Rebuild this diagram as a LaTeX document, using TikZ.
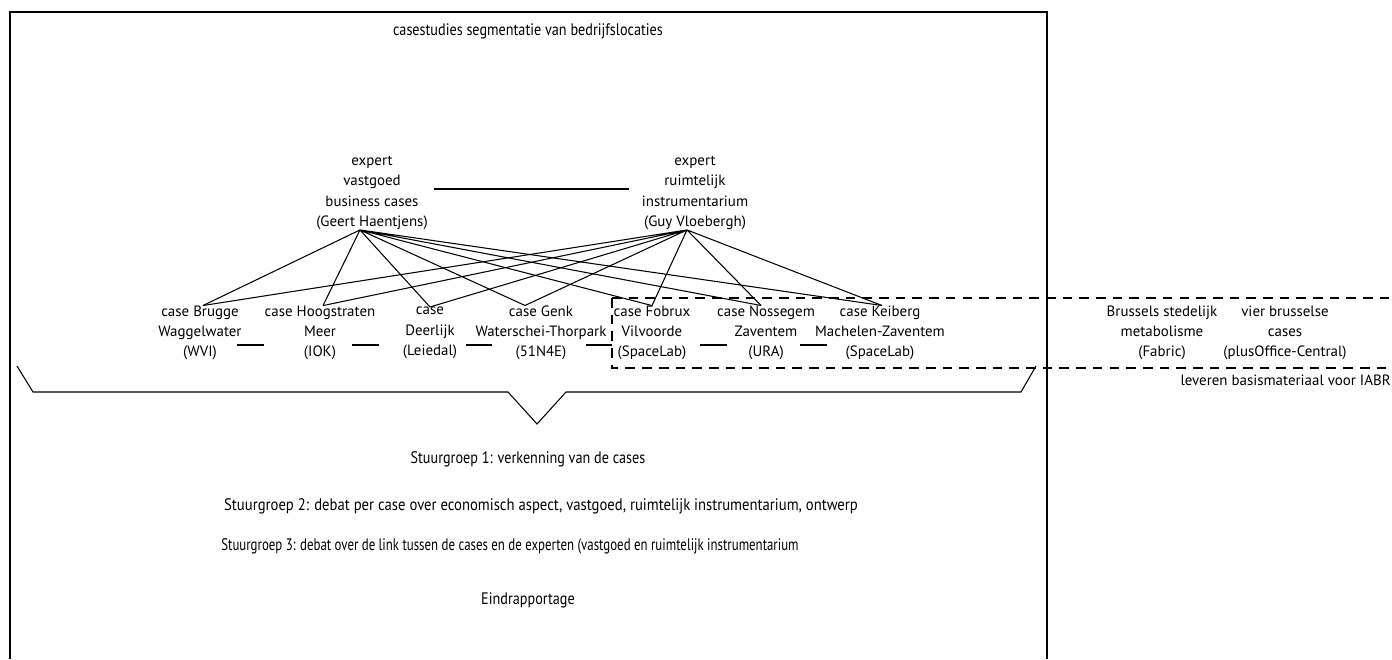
\documentclass[tikz,border=0pt]{standalone}
\usepackage{fontspec}
\setmainfont{PT Sans}
\newfontfamily\smalfont[FakeStretch=0.85]{PT Sans}
\newfontfamily\breedfont[FakeStretch=0.88]{PT Sans}
\newfontfamily\smallerfont[FakeStretch=0.77]{PT Sans}
\usetikzlibrary{positioning,calc}

\begin{document}
\begin{tikzpicture}[x=0.02cm, y=-0.02cm,
  lbl/.style={align=center, inner sep=0pt, font=\fontsize{8.5}{11.5}\selectfont},
  case/.style={lbl},
  expert/.style={lbl},
  smal/.style={inner sep=0pt, font=\smalfont\fontsize{9.5}{11}\selectfont},
  link/.style={line width=0.6pt},
  rim/.style={line width=0.8pt},
  grens/.style={line width=0.6pt, dash pattern=on 5.5pt off 4pt}
]
\useasboundingbox (0,0) rectangle (1392,659);

% kader en titel
\draw[rim] (10,659) -- (10,12) -- (1047,12) -- (1047,659);
\node[smal] (titel) at (528,31) {casestudies segmentatie van bedrijfslocaties};

% experten
\node[expert] (vastgoed) at (372,193) {expert\\vastgoed\\business cases\\(Geert Haentjens)};
\node[expert] (ruimte) at (695,193) {expert\\ruimtelijk\\instrumentarium\\(Guy Vloebergh)};
\draw[link, shorten <=0.12cm, shorten >=0.26cm] ([yshift=0.08cm]vastgoed.east) -- ([yshift=0.08cm]ruimte.west);

% cases
\node[case] (brugge) at (200,333) {case Brugge\\Waggelwater\\(WVI)};
\node[case] (hoogstraten) at (320,333) {case Hoogstraten\\Meer\\(IOK)};
\node[case] (deerlijk) at (430,333) {case\\Deerlijk\\(Leiedal)};
\node[case] (genk) at (541,333) {case Genk\\Waterschei-Thorpark\\(51N4E)};
\node[case] (fobrux) at (652,333) {case Fobrux\\Vilvoorde\\(SpaceLab)};
\node[case] (nossegem) at (766,333) {case Nossegem\\Zaventem\\(URA)};
\node[case] (keiberg) at (880,333) {case Keiberg\\Machelen-Zaventem\\(SpaceLab)};

% brusselse cases
\node[case] (fabric) at (1162,333) {Brussels stedelijk\\metabolisme\\(Fabric)};
\node[case] (plusoffice) at (1285,333) {vier brusselse\\cases\\(plusOffice-Central)};
\node[lbl, anchor=east] (iabr) at (1391,380) {leveren basismateriaal voor IABR};

% expert -> case
\draw[link] ($(vastgoed.south)+(-12,0)$) -- ($(brugge.north)+(3,0)$)
  ($(vastgoed.south)+(-12,0)$) -- ($(hoogstraten.north)+(3,0)$)
  ($(vastgoed.south)+(-12,0)$) -- (deerlijk.north)
  ($(vastgoed.south)+(-12,0)$) -- ($(genk.north)+(-16,0)$)
  ($(vastgoed.south)+(-12,0)$) -- (fobrux.north)
  ($(vastgoed.south)+(-12,0)$) -- ($(nossegem.north)+(-5,0)$)
  ($(vastgoed.south)+(-12,0)$) -- ($(keiberg.north)+(2,0)$);
\draw[link] ($(ruimte.south)+(-8,0)$) -- ($(brugge.north)+(3,0)$)
  ($(ruimte.south)+(-8,0)$) -- ($(hoogstraten.north)+(3,0)$)
  ($(ruimte.south)+(-8,0)$) -- (deerlijk.north)
  ($(ruimte.south)+(-8,0)$) -- ($(genk.north)+(-16,0)$)
  ($(ruimte.south)+(-8,0)$) -- (fobrux.north)
  ($(ruimte.south)+(-8,0)$) -- ($(nossegem.north)+(-5,0)$)
  ($(ruimte.south)+(-8,0)$) -- ($(keiberg.north)+(2,0)$);

% case -- case
\draw[link] ($(brugge.center)+(37,12)$) -- ($(hoogstraten.center)+(-56,12)$);
\draw[link] ($(hoogstraten.center)+(32,12)$) -- ($(deerlijk.center)+(-51,12)$);
\draw[link] ($(deerlijk.center)+(36,12)$) -- ($(genk.center)+(-49,12)$);
\draw[link] ($(genk.center)+(45,12)$) -- ($(fobrux.center)+(-40,12)$);
\draw[link] ($(fobrux.center)+(48,12)$) -- ($(nossegem.center)+(-39,12)$);
\draw[link] ($(nossegem.center)+(34,12)$) -- ($(keiberg.center)+(-53,12)$);

% gestippelde zone
\draw[grens] (612,298) -- (1392,298);
\draw[grens] (612,298) -- (612,368) -- (1392,368);

% accolade
\draw[link] (17,366) -- (33,392) -- (508,392) -- (537,424) -- (566,392) -- (1021,392) -- (1036,366);

% stuurgroepen
\node[smal] (sg1) at (528,459) {Stuurgroep 1: verkenning van de cases};
\node[smal, font=\breedfont\fontsize{9.5}{11}\selectfont] (sg2) at (541,506) {Stuurgroep 2: debat per case over economisch aspect, vastgoed, ruimtelijk instrumentarium, ontwerp};
\node[smal, font=\smallerfont\fontsize{9.5}{11}\selectfont] (sg3) at (510,546) {Stuurgroep 3: debat over de link tussen de cases en de experten (vastgoed en ruimtelijk instrumentarium};
\node[smal] (eind) at (528,600) {Eindrapportage};

\end{tikzpicture}
\end{document}
